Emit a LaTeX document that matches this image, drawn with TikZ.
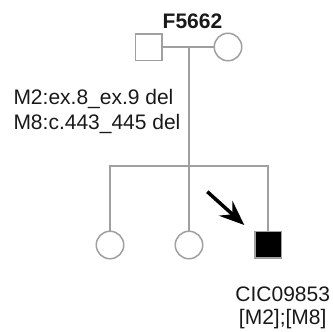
\documentclass[tikz,border=0pt]{standalone}
\usepackage{fontspec}
\setmainfont{Liberation Sans}
\usetikzlibrary{arrows.meta}
\definecolor{lc}{RGB}{160,160,160}
\definecolor{tc}{RGB}{25,25,25}
\begin{document}
\begin{tikzpicture}[x=1pt,y=-1pt,
  lin/.style={draw=lc, line width=1.5pt},
  malebox/.style={lin, rectangle, minimum size=26.5pt, inner sep=0pt},
  femcirc/.style={lin, circle, minimum size=27.5pt, inner sep=0pt},
  affbox/.style={malebox, fill=black},
  txt/.style={inner sep=0pt, text=tc, font=\fontsize{21}{24}\selectfont},
  probandarrow/.style={line width=3.5pt, -{Stealth[length=25pt,width=20pt,inset=9pt]}}
]
\useasboundingbox (0,0) rectangle (333,332);
% parents
\node[malebox] (fa) at (148.5,47) {};
\node[femcirc] (mo) at (228,47) {};
\draw[lin] (fa.east) -- (mo.west);
\coordinate (mid) at (189,47);
\coordinate (sib) at (189,166);
\draw[lin] (mid) -- (sib);
% children
\node[femcirc] (c1) at (110,245) {};
\node[femcirc] (c2) at (189,245) {};
\node[affbox] (c3) at (268,244.5) {};
\draw[lin] (c1.north) -- (c1.north |- sib) -- (c3.north |- sib) -- (c3.north);
\draw[lin] (c2.north) -- (c2.north |- sib);
% proband arrow
\coordinate (arrs) at (207.3,191.7);
\coordinate (arrt) at (244.3,225);
\draw[probandarrow] (arrs) -- (arrt);
% texts
\node[txt, font=\bfseries\fontsize{21}{24}\selectfont, anchor=base] (fam) at (192.5,28.3) {F5662};
\node[txt, anchor=base west] (m2) at (13.3,104) {M2:ex.8\_ex.9 del};
\node[txt, anchor=base west] (m8) at (13.3,129) {M8:c.443\_445 del};
\node[txt, anchor=base] (id) at (282.7,301.7) {CIC09853};
\node[txt, anchor=base] (gt) at (282.7,324) {[M2];[M8]};
\end{tikzpicture}
\end{document}
